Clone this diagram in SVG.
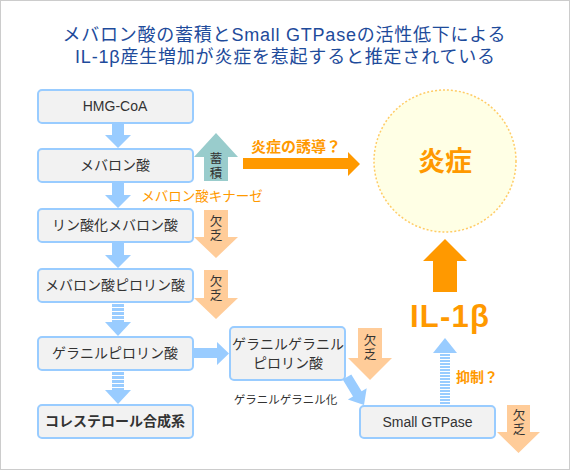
<svg xmlns="http://www.w3.org/2000/svg" width="570" height="470" viewBox="0 0 570 470">
<defs>
<style>
text{font-family:"Liberation Sans","Noto Sans CJK JP",sans-serif;}
.title{font-size:18px;fill:#1e4b9b;text-anchor:middle;}
.box{fill:#f2f2f2;stroke:#99ccff;stroke-width:2;}
.lbl{font-size:14px;fill:#333;text-anchor:middle;}
.blue{fill:#99ccff;}
.peach{fill:#ffcc99;}
.teal{fill:#99cccc;}
.orange{fill:#ff9900;}
.vt{font-size:12.5px;fill:#333;text-anchor:middle;}
.otext{fill:#ff9900;}
</style>
<pattern id="stripe4" width="4" height="4" patternUnits="userSpaceOnUse"><rect width="4" height="3" fill="#99ccff"/></pattern>
<pattern id="stripe3" width="3" height="3" patternUnits="userSpaceOnUse"><rect width="3" height="2" fill="#99ccff"/></pattern>
</defs>
<rect x="0.5" y="0.5" width="569" height="469" fill="#fff" stroke="#cccccc"/>
<g id="title">
<text class="title" x="284" y="41" textLength="443" lengthAdjust="spacing">メバロン酸の蓄積とSmall GTPaseの活性低下による</text>
<text class="title" x="285" y="63" textLength="420" lengthAdjust="spacing">IL-1β産生増加が炎症を惹起すると推定されている</text>
</g>
<g id="connectors">
<path class="blue" d="M112,123 H124 V135 H131 L118,148 L105,135 H112 Z"/>
<path class="blue" d="M112,183 H124 V195 H131 L118,208 L105,195 H112 Z"/>
<path class="blue" d="M112,243 H124 V255 H131 L118,268 L105,255 H112 Z"/>
<rect x="112" y="304" width="12" height="18" fill="url(#stripe4)"/>
<path class="blue" d="M105,322 H131 L118,336 Z"/>
<rect x="112" y="372" width="12" height="18" fill="url(#stripe4)"/>
<path class="blue" d="M105,390 H131 L118,404 Z"/>
<path class="blue" d="M193,348 H217 V342 L229,353.5 L217,365 V358 H193 Z"/>
<path class="blue" d="M351.3,374.4 L361.6,391.3 L366.7,388.2 L364,405 L347.9,399.6 L353,396.5 L342.7,379.6 Z"/>
<rect x="440" y="353" width="10" height="52" fill="url(#stripe3)"/>
<path class="blue" d="M433,353 H457 L445,338 Z"/>
<path class="orange" d="M243,158 H348 V152 L360,164 L348,176 V169 H243 Z"/>
<path class="orange" d="M433,292 V261 H423 L445,239 L467,261 H457 V292 Z"/>
</g>
<g id="n1"><rect class="box" x="38" y="90" width="155" height="33" rx="4"/><text class="lbl" x="115" y="111" font-size="15">HMG-CoA</text></g>
<g id="n2"><rect class="box" x="38" y="149" width="155" height="33" rx="4"/><text class="lbl" x="115" y="170">メバロン酸</text></g>
<g id="n3"><rect class="box" x="38" y="209" width="155" height="33" rx="4"/><text class="lbl" x="115" y="230">リン酸化メバロン酸</text></g>
<g id="n4"><rect class="box" x="38" y="269" width="155" height="33" rx="4"/><text class="lbl" x="115" y="290">メバロン酸ピロリン酸</text></g>
<g id="n5"><rect class="box" x="38" y="337" width="155" height="33" rx="4"/><text class="lbl" x="115" y="358">ゲラニルピロリン酸</text></g>
<g id="n6"><rect class="box" x="38" y="405" width="155" height="33" rx="4"/><text class="lbl" x="115" y="426" font-weight="bold">コレステロール合成系</text></g>
<g id="n7"><rect class="box" x="230" y="327" width="115" height="53" rx="4"/><text class="lbl" x="288" y="349" font-size="13.5">ゲラニルゲラニル</text><text class="lbl" x="288" y="368" font-size="13.5">ピロリン酸</text></g>
<g id="n8"><rect class="box" x="360" y="406" width="135" height="32" rx="4"/><text class="lbl" x="427.5" y="427" font-size="14.5">Small GTPase</text></g>
<g id="n9"><circle cx="445" cy="161" r="71" fill="#ffffe5" stroke="#ffcc66" stroke-width="1.5" stroke-dasharray="2,2"/><text x="445" y="171" font-size="27" font-weight="bold" text-anchor="middle" class="otext">炎症</text></g>
<g id="n10"><text x="410" y="327" font-size="31" font-weight="bold" class="otext" textLength="79" lengthAdjust="spacing">IL-1β</text></g>
<g id="accum"><path class="teal" d="M204,181 V157 H194 L216,133 L238,157 H228 V181 Z"/><text class="vt" x="216" y="163">蓄</text><text class="vt" x="216" y="178">積</text></g>
<g id="lack1"><path class="peach" d="M204,210 H228 V237 H238 L216,258 L194,237 H204 Z"/><text class="vt" x="216" y="226">欠</text><text class="vt" x="216" y="240">乏</text></g>
<g id="lack2"><path class="peach" d="M204,270 H228 V298 H238 L216,319 L194,298 H204 Z"/><text class="vt" x="216" y="286">欠</text><text class="vt" x="216" y="300">乏</text></g>
<g id="lack3"><path class="peach" d="M358,328 H382 V358 H392 L370,380 L348,358 H358 Z"/><text class="vt" x="370" y="345">欠</text><text class="vt" x="370" y="359">乏</text></g>
<g id="lack4"><path class="peach" d="M507,405 H530 V432 H540 L518.5,453 L497,432 H507 Z"/><text class="vt" x="519" y="420">欠</text><text class="vt" x="519" y="434">乏</text></g>
<g id="labels">
<text x="296" y="152" font-size="15" font-weight="bold" text-anchor="middle" class="otext">炎症の誘導？</text>
<text x="202" y="201" font-size="13.5" text-anchor="middle" class="otext">メバロン酸キナーゼ</text>
<text x="477" y="382" font-size="14" font-weight="bold" text-anchor="middle" class="otext">抑制？</text>
<text x="285.5" y="404" font-size="11.5" fill="#333" text-anchor="middle">ゲラニルゲラニル化</text>
</g>
</svg>
